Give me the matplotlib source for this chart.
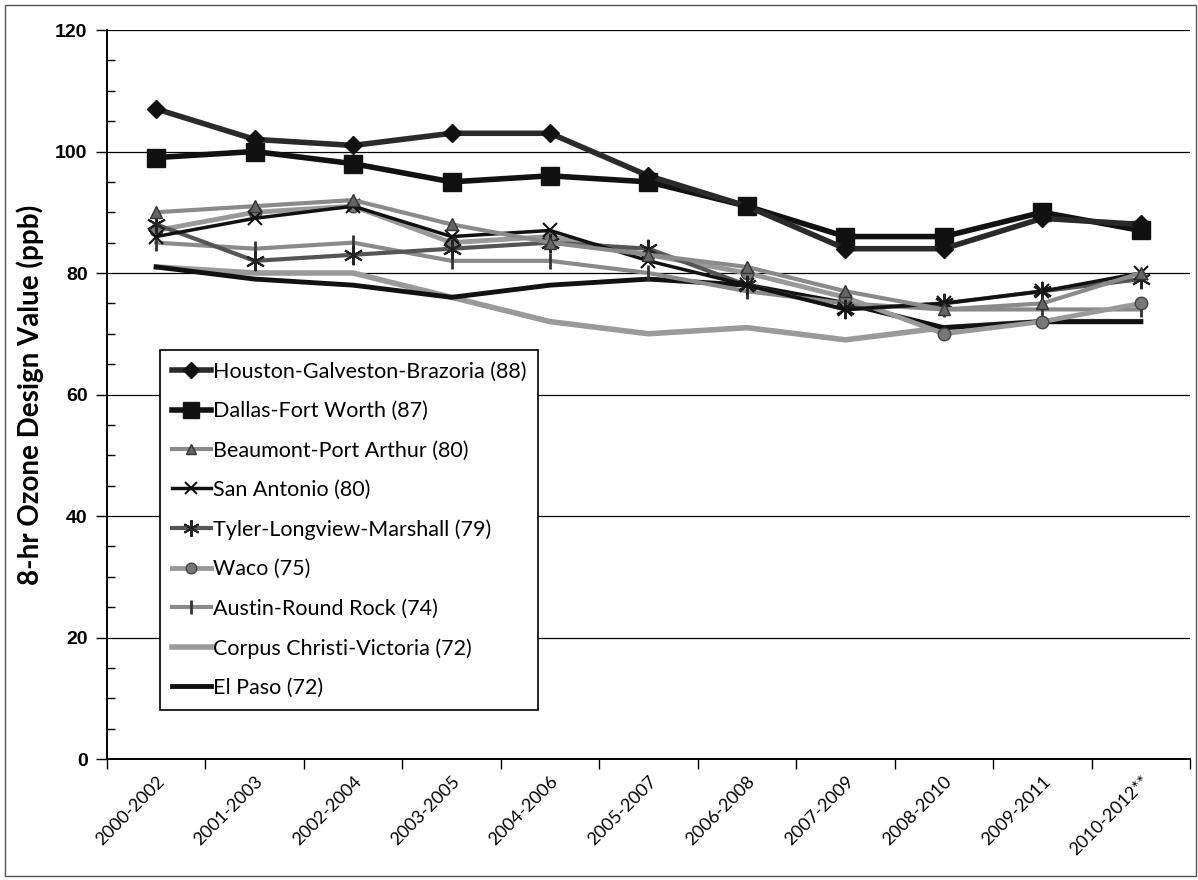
"""Texas 8-hr ozone design values by area, 2000-2012."""
import matplotlib
matplotlib.use('Agg')
import matplotlib.pyplot as plt
from matplotlib.ticker import MultipleLocator, FixedLocator
from matplotlib.patches import Rectangle

periods = ['2000-2002', '2001-2003', '2002-2004', '2003-2005', '2004-2006',
           '2005-2007', '2006-2008', '2007-2009', '2008-2010', '2009-2011',
           '2010-2012**']

houston = [107, 102, 101, 103, 103, 96, 91, 84, 84, 89, 88]
dallas = [99, 100, 98, 95, 96, 95, 91, 86, 86, 90, 87]
beaumont = [90, 91, 92, 88, 85, 83, 81, 77, 74, 75, 80]
san_antonio = [86, 89, 91, 86, 87, 82, 78, 74, 75, 77, 80]
tyler = [88, 82, 83, 84, 85, 84, 78, 74, 75, 77, 79]
waco = [87, 90, 91, 85, 86, 83, 80, 76, 70, 72, 75]
austin = [85, 84, 85, 82, 82, 80, 77, 75, 74, 74, 74]
corpus = [81, 80, 80, 76, 72, 70, 71, 69, 71, 72, 72]
el_paso = [81, 79, 78, 76, 78, 79, 78, 75, 71, 72, 72]

labels = ['Houston-Galveston-Brazoria (88)', 'Dallas-Fort Worth (87)',
          'Beaumont-Port Arthur (80)', 'San Antonio (80)',
          'Tyler-Longview-Marshall (79)', 'Waco (75)', 'Austin-Round Rock (74)',
          'Corpus Christi-Victoria (72)', 'El Paso (72)']

plt.rcParams['font.family'] = ['Lato', 'DejaVu Sans']

fig = plt.figure(figsize=(11.98, 8.8), dpi=100)
ax = fig.add_axes([0.0893, 0.1375, 0.904, 0.8284])

x = range(len(periods))

# drawn bottom-up so the heavy series sit on top
ax.plot(x, corpus, color='#9a9a9a', lw=4, label=labels[7], zorder=2)
ax.plot(x, el_paso, color='#111111', lw=3.5, label=labels[8], zorder=2)
ax.plot(x, austin, color='#8a8a8a', lw=3, marker='|', ms=12, mew=2,
        mec='#333333', label=labels[6], zorder=3)
ax.plot(x, waco, color='#999999', lw=3.5, marker='o', ms=9,
        mfc='#777777', mec='#444444', label=labels[5], zorder=3)
ax.plot(x, tyler, color='#555555', lw=3, marker=(6, 2, 0), ms=14, mew=1.5,
        mec='#222222', label=labels[4], zorder=3)
ax.plot(x, san_antonio, color='#111111', lw=2.5, marker='x', ms=10, mew=1.5,
        label=labels[3], zorder=3)
ax.plot(x, beaumont, color='#8a8a8a', lw=3, marker='^', ms=9,
        mfc='#666666', mec='#333333', label=labels[2], zorder=3)
ax.plot(x, dallas, color='#111111', lw=4, marker='s', ms=13,
        label=labels[1], zorder=4)
ax.plot(x, houston, color='#2a2a2a', lw=4, marker='D', ms=9,
        mfc='#111111', mec='#111111', label=labels[0], zorder=4)

ax.set_xlim(-0.5, len(periods) - 0.5)
ax.set_ylim(0, 120)

ax.yaxis.set_major_locator(MultipleLocator(20))
ax.yaxis.set_minor_locator(MultipleLocator(5))
ax.tick_params(axis='y', which='major', direction='out', length=8, width=1,
               labelsize=14, pad=6)
ax.tick_params(axis='y', which='minor', direction='in', length=6, width=1)
for t in ax.get_yticklabels():
    t.set_fontweight('bold')
    t.set_family(['Liberation Sans', 'DejaVu Sans'])

ax.set_xticks(list(x))
ax.set_xticklabels(periods, rotation=45, ha='right', rotation_mode='anchor',
                   fontsize=13)
ax.xaxis.set_minor_locator(FixedLocator([i - 0.5 for i in range(len(periods) + 1)]))
ax.tick_params(axis='x', which='major', length=0, pad=10)
ax.tick_params(axis='x', which='minor', direction='out', length=7, width=1)

ax.grid(axis='y', which='major', color='black', lw=0.9)
ax.set_axisbelow(True)
for side in ['top', 'right']:
    ax.spines[side].set_visible(False)
ax.spines['left'].set_linewidth(1.4)
ax.spines['bottom'].set_linewidth(1.4)

ax.set_ylabel('8-hr Ozone Design Value (ppb)', fontsize=20, fontweight='bold',
              labelpad=8)

handles, leg_labels = ax.get_legend_handles_labels()
order = [8, 7, 6, 5, 4, 3, 2, 0, 1]
leg = ax.legend([handles[i] for i in order], [leg_labels[i] for i in order],
                loc='upper left', bbox_to_anchor=(160 / 1198, 1 - 350 / 880),
                bbox_transform=fig.transFigure, fontsize=15.5, frameon=True,
                fancybox=False, edgecolor='black', framealpha=1,
                handlelength=1.8, handletextpad=0.1, labelspacing=0.9,
                borderpad=0.55, borderaxespad=0, markerscale=0.85)
leg.get_frame().set_linewidth(1.2)

fig.patches.append(Rectangle((5 / 1198, 4 / 880), 1191 / 1198, 871 / 880,
                             transform=fig.transFigure, fill=False,
                             edgecolor='#555555', lw=1))

fig.savefig('out.png', dpi=100)
